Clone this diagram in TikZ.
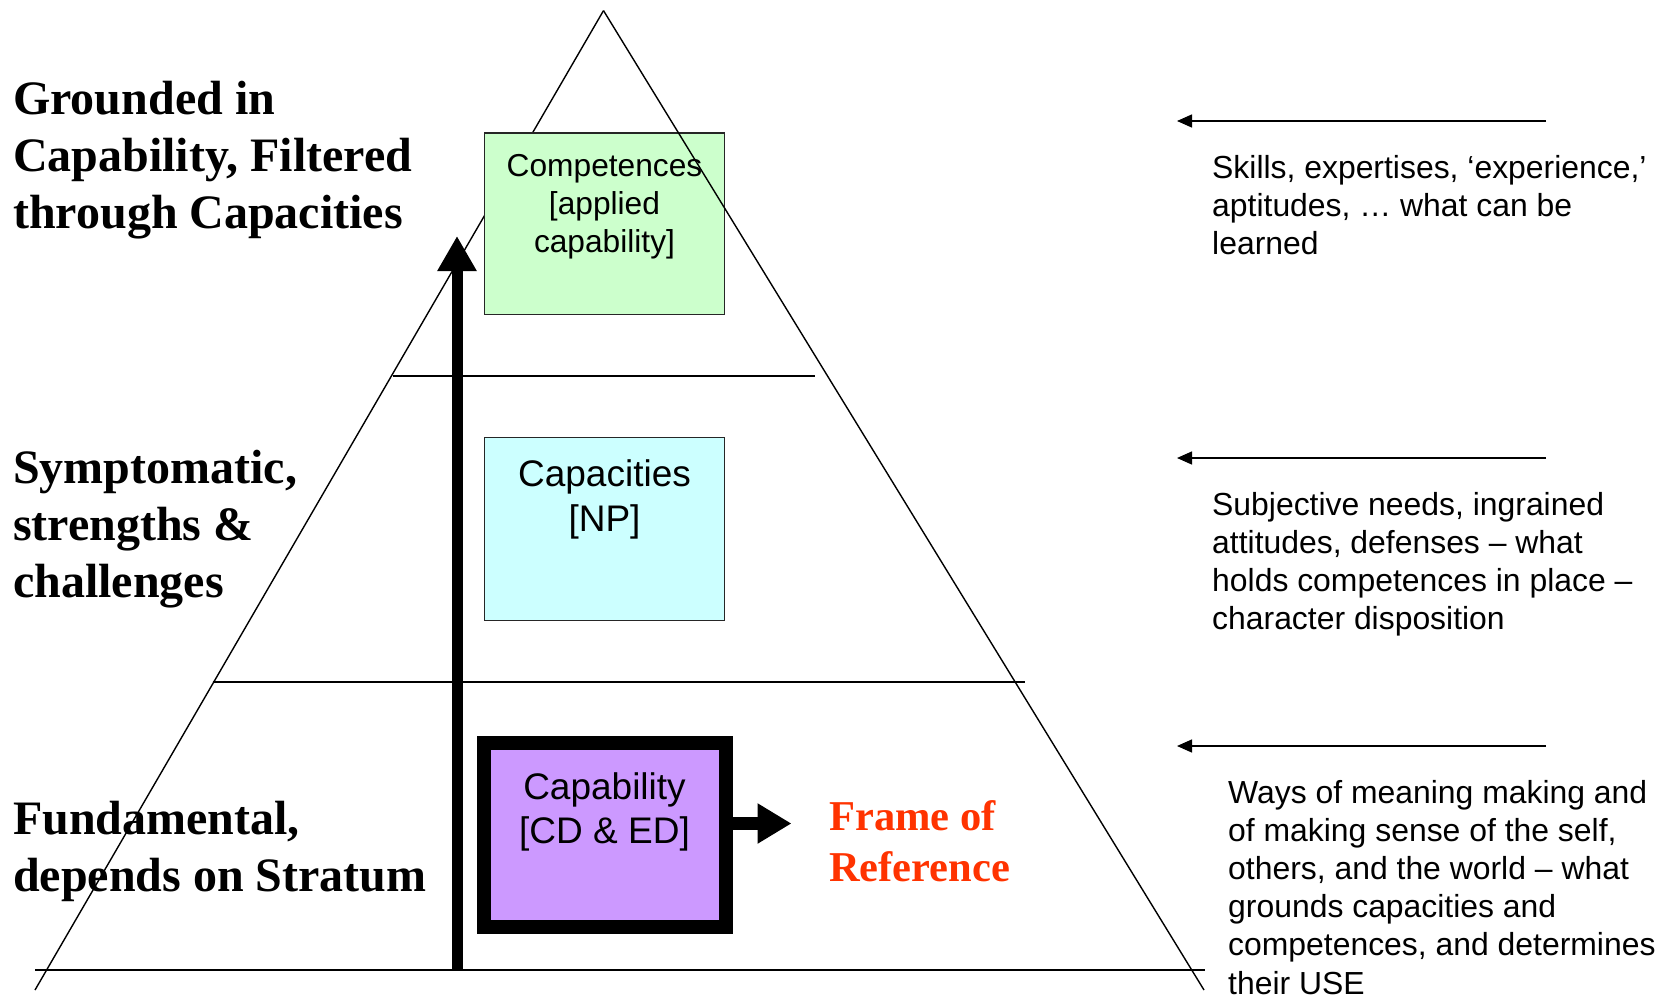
\documentclass[tikz,border=0pt]{standalone}
\usepackage{fontspec}
\setmainfont{Liberation Serif}
\newfontfamily\arial{Liberation Sans}
\usetikzlibrary{arrows.meta}
\definecolor{cgreen}{HTML}{CCFFCC}
\definecolor{ccyan}{HTML}{CCFFFF}
\definecolor{cpurple}{HTML}{CC99FF}
\definecolor{cred}{HTML}{FF3300}
\newcommand\linesL[1]{\begin{tabular}[t]{@{}l@{}}#1\end{tabular}}
\newcommand\linesC[1]{\begin{tabular}[t]{@{}c@{}}#1\end{tabular}}
\tikzset{
  thinline/.style={line width=1.4pt, black},
  boxstyle/.style={draw=black!85, line width=1.6pt},
  leftlabel/.style={anchor=base west, inner sep=0pt, font=\fontsize{48}{57}\selectfont\bfseries},
  frametext/.style={anchor=base west, inner sep=0pt, text=cred, font=\fontsize{42.5}{51}\selectfont\bfseries},
  righttext/.style={anchor=base west, inner sep=0pt, font=\arial\fontsize{31.9}{38.2}\selectfont},
  smallbox/.style={anchor=base, inner sep=0pt, font=\arial\fontsize{31.7}{38}\selectfont},
  bigbox/.style={anchor=base, inner sep=0pt, font=\arial\fontsize{37}{44.6}\selectfont},
  rarrow/.style={line width=1.4pt, -{Triangle[length=15pt,width=13pt]}},
}
\begin{document}
\begin{tikzpicture}[x=1pt,y=-1pt]
\useasboundingbox (0,0) rectangle (1666,999);
% triangle points
\coordinate (apex) at (603.5,10.6);
\coordinate (lf) at (35,990);
\coordinate (rf) at (1204,990);
\coordinate (b1) at (35,970);
\coordinate (b2) at (1205,970);
\coordinate (h1a) at (393,376);
\coordinate (h1b) at (815,376);
\coordinate (h2a) at (212.5,682);
\coordinate (h2b) at (1025,682);
% horizontal lines
\draw[thinline] (b1) -- (b2);
\draw[thinline] (h1a) -- (h1b);
\draw[thinline] (h2a) -- (h2b);
% left side
\draw[thinline] (apex) -- (lf);
% boxes
\node[boxstyle, fill=cgreen, minimum width=240pt, minimum height=181.5pt, inner sep=0pt] (comp) at (604.5,223.7) {};
\node[boxstyle, fill=ccyan, minimum width=240pt, minimum height=183pt, inner sep=0pt] (capa) at (604.5,529.1) {};
\node[draw=black, fill=cpurple, line width=14pt, minimum width=242pt, minimum height=184pt, inner sep=0pt] (cap) at (604.5,835) {};
% right side
\draw[thinline] (apex) -- (rf);
% box texts
\node[smallbox] (tcomp) at (604.5,176) {\linesC{Competences\\ {[}applied\\ capability{]}}};
\node[bigbox] (tcapa) at (604.5,486.6) {\linesC{Capacities\\ {[}NP{]}}};
\node[bigbox] (tcap) at (604.5,799) {\linesC{Capability\\ {[}CD \& ED{]}}};
% vertical arrow
\coordinate (vbot) at (457,970);
\coordinate (vtop) at (457,236);
\draw[line width=11pt, -{Triangle[length=35pt,width=37pt]}] (vbot) -- (vtop);
% frame arrow
\coordinate (ftip) at (791.5,823.5);
\draw[line width=13pt, -{Triangle[length=34pt,width=38pt]}] (cap.east |- ftip) -- (ftip);
\node[frametext] (frame) at (829,830) {\linesL{Frame of\\ Reference}};
% left labels
\node[leftlabel] (lab1) at (13,114.5) {\linesL{Grounded in\\ Capability, Filtered\\ through Capacities}};
\node[leftlabel] (lab2) at (13,483) {\linesL{Symptomatic,\\ strengths \&\\ challenges}};
\node[leftlabel] (lab3) at (13,834.6) {\linesL{Fundamental,\\ depends on Stratum}};
% right arrows
\coordinate (ra1) at (1546,121);
\coordinate (rb1) at (1177,121);
\coordinate (ra2) at (1546,458);
\coordinate (rb2) at (1177,458);
\coordinate (ra3) at (1546,746);
\coordinate (rb3) at (1177,746);
\draw[rarrow] (ra1) -- (rb1);
\draw[rarrow] (ra2) -- (rb2);
\draw[rarrow] (ra3) -- (rb3);
% right texts
\node[righttext] (rt1) at (1212,178.5) {\linesL{Skills, expertises, ‘experience,’\\ aptitudes, … what can be\\ learned}};
\node[righttext] (rt2) at (1212,515) {\linesL{Subjective needs, ingrained\\ attitudes, defenses – what\\ holds competences in place –\\ character disposition}};
\node[righttext] (rt3) at (1228,803) {\linesL{Ways of meaning making and\\ of making sense of the self,\\ others, and the world – what\\ grounds capacities and\\ competences, and determines\\ their USE}};
\end{tikzpicture}
\end{document}
